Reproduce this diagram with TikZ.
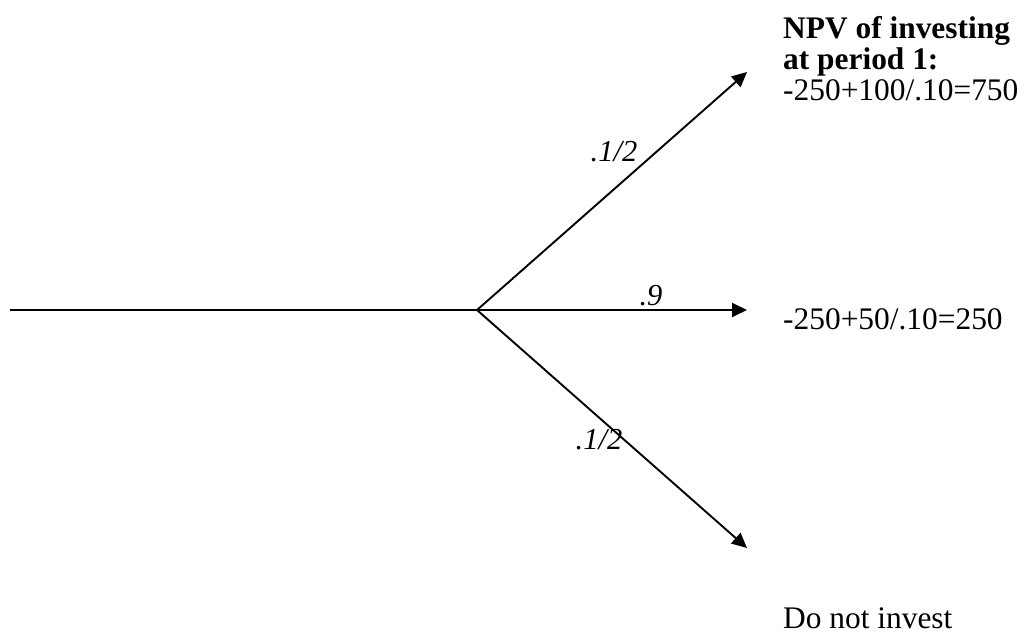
\documentclass[tikz,border=0pt]{standalone}
\usepackage{fontspec}
\setmainfont{Liberation Serif}
\usetikzlibrary{arrows.meta, positioning}

\begin{document}
\begin{tikzpicture}[
  x=1pt, y=-1pt,
  branch/.style={line width=1.9pt},
  arrow/.style={branch, -{Triangle[length=15pt, width=14pt]}},
  prob/.style={font=\fontsize{30.5}{30}\selectfont\itshape, inner sep=0pt, anchor=base},
  payoff/.style={font=\fontsize{31.4}{31}\selectfont, inner sep=0pt, align=left}
]
  \useasboundingbox (0,0) rectangle (1029,634);
  \coordinate (start) at (10,310);
  \coordinate (root) at (477,310);
  \coordinate (up) at (747,72);
  \coordinate (mid) at (747,310);
  \coordinate (down) at (747,548);
  \draw[branch] (start) -- (root);
  \draw[arrow] (root) -- (up);
  \draw[arrow] (root) -- (mid);
  \draw[arrow] (root) -- (down);
  \node[prob] (pup) at (614,161) {.1/2};
  \node[prob] (pmid) at (651,305) {.9};
  \node[prob] (pdown) at (599,449) {.1/2};
  \node[payoff, anchor=north west] (high) at (783,16)
    {\textbf{NPV of investing}\\\textbf{at period 1:}\\-250+100/.10=750};
  \node[payoff, anchor=base west] (middle) at (783,329) {-250+50/.10=250};
  \node[payoff, anchor=base west] (none) at (783,628) {Do not invest};
\end{tikzpicture}
\end{document}
